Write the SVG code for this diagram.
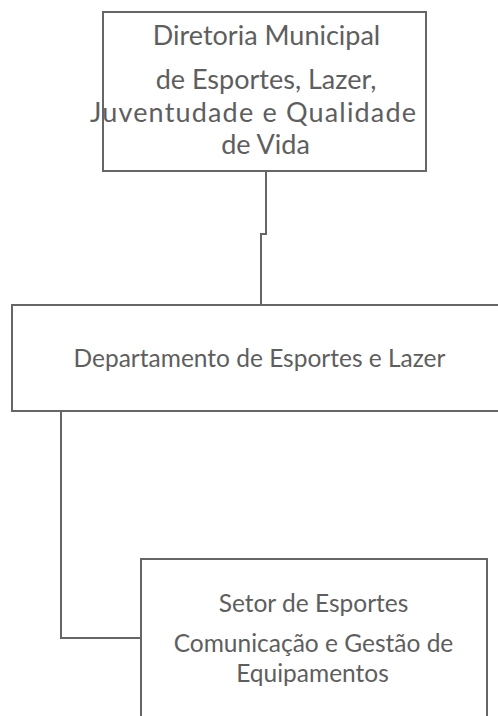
<svg xmlns="http://www.w3.org/2000/svg" width="498" height="716" viewBox="0 0 498 716">
<style>
.box{fill:#fff;stroke:#666;stroke-width:2}
.lbl{font-family:Lato,"Liberation Sans",sans-serif;fill:#5e5e5e;text-anchor:middle}
.big{font-size:27px}
.med{font-size:24.5px}
.con{fill:none;stroke:#666;stroke-width:2}
</style>
<rect width="498" height="716" fill="#fff"/>
<g id="connectors">
<path class="con" d="M266 171 V234 H261 V305"/>
<path class="con" d="M61 411 V638 H141"/>
</g>
<g id="diretoria">
<rect class="box" x="103" y="12" width="323" height="159"/>
<text class="lbl big" x="266.5" y="45">Diretoria Municipal</text>
<text class="lbl big" x="266" y="89">de Esportes, Lazer,</text>
<text class="lbl big" x="253" y="122" textLength="326">Juventudade e Qualidade</text>
<text class="lbl big" x="265.5" y="154">de Vida</text>
</g>
<g id="departamento">
<rect class="box" x="12" y="305" width="500" height="106"/>
<text class="lbl med" x="259.5" y="367">Departamento de Esportes e Lazer</text>
</g>
<g id="setor">
<rect class="box" x="141" y="559" width="346" height="170"/>
<text class="lbl med" x="313.5" y="611.5">Setor de Esportes</text>
<text class="lbl med" x="313.5" y="651.5">Comunicação e Gestão de</text>
<text class="lbl med" x="312.5" y="681.5">Equipamentos</text>
</g>
</svg>
